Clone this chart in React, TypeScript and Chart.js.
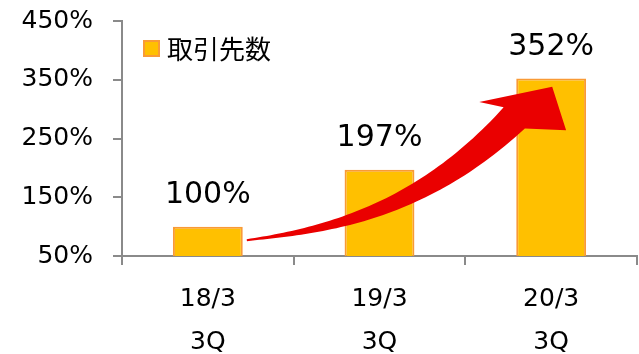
import React, { useEffect, useRef } from "react";
import { Chart, registerables } from "chart.js";

Chart.register(...registerables);

const categories: string[][] = [["18/3", "3Q"], ["19/3", "3Q"], ["20/3", "3Q"]];
const values: number[] = [100, 197, 352];
const seriesName = "取引先数";
const yMin = 50;
const yMax = 450;
const yStep = 100;

// Decorative arrow anchors in data space: [category position, value]
const arrowCurve: [number, number][] = [
  [0.227, 77],
  [0.692, 94],
  [1.24, 125],
  [1.785, 285],
];
const arrowHead: [number, number][] = [
  [1.581, 312],
  [2.006, 338],
  [2.087, 264],
];

const FONT = "'DejaVu Sans', Verdana, 'Noto Sans CJK JP', sans-serif";
const BAR_FILL = "#FFC000";
const BAR_BORDER = "#F99A36";
const AXIS_GREY = "#8a8a8a";
const ARROW_RED = "rgb(234,0,0)";

const overlayPlugin = {
  id: "overlay",
  afterDatasetsDraw(chart: any) {
    const { ctx, chartArea, scales } = chart;
    const xs = scales.x;
    const ys = scales.y;
    const P = (p: [number, number]) => ({ x: xs.getPixelForValue(p[0]), y: ys.getPixelForValue(p[1]) });

    // arrow
    const [p0, c1, c2, p3] = arrowCurve.map(P);
    const bez = (t: number) => {
      const u = 1 - t;
      return {
        x: u * u * u * p0.x + 3 * u * u * t * c1.x + 3 * u * t * t * c2.x + t * t * t * p3.x,
        y: u * u * u * p0.y + 3 * u * u * t * c1.y + 3 * u * t * t * c2.y + t * t * t * p3.y,
      };
    };
    const tan = (t: number) => {
      const u = 1 - t;
      const dx = 3 * u * u * (c1.x - p0.x) + 6 * u * t * (c2.x - c1.x) + 3 * t * t * (p3.x - c2.x);
      const dy = 3 * u * u * (c1.y - p0.y) + 6 * u * t * (c2.y - c1.y) + 3 * t * t * (p3.y - c2.y);
      const l = Math.hypot(dx, dy) || 1;
      return { x: dx / l, y: dy / l };
    };
    const N = 60;
    const upper: { x: number; y: number }[] = [];
    const lower: { x: number; y: number }[] = [];
    for (let i = 0; i <= N; i++) {
      const t = i / N;
      const b = bez(t);
      const d = tan(t);
      const n = { x: -d.y, y: d.x };
      const w = 1 + 14 * Math.pow(t, 1.3);
      upper.push({ x: b.x - n.x * w, y: b.y - n.y * w });
      lower.push({ x: b.x + n.x * w, y: b.y + n.y * w });
    }
    const head = arrowHead.map(P);
    ctx.save();
    ctx.fillStyle = ARROW_RED;
    ctx.beginPath();
    ctx.moveTo(upper[0].x, upper[0].y);
    upper.forEach((p) => ctx.lineTo(p.x, p.y));
    head.forEach((p) => ctx.lineTo(p.x, p.y));
    for (let i = lower.length - 1; i >= 0; i--) ctx.lineTo(lower[i].x, lower[i].y);
    ctx.closePath();
    ctx.fill();
    ctx.restore();

    // data labels
    const meta = chart.getDatasetMeta(0);
    ctx.save();
    ctx.font = `30px ${FONT}`;
    ctx.fillStyle = "#000";
    ctx.textAlign = "center";
    ctx.textBaseline = "alphabetic";
    meta.data.forEach((bar: any, i: number) => {
      ctx.fillText(`${values[i]}%`, bar.x, bar.y - 24);
    });
    ctx.restore();

    // legend
    ctx.save();
    const lx = chartArea.left + 21;
    const ly = chartArea.top + 19;
    ctx.fillStyle = BAR_FILL;
    ctx.strokeStyle = BAR_BORDER;
    ctx.lineWidth = 2;
    ctx.fillRect(lx, ly, 17, 17);
    ctx.strokeRect(lx + 1, ly + 1, 15, 15);
    ctx.fillStyle = "#000";
    ctx.font = `26px 'Noto Sans CJK JP', ${FONT}`;
    ctx.textAlign = "left";
    ctx.textBaseline = "middle";
    ctx.fillText(seriesName, lx + 24, ly + 9);
    ctx.restore();
  },
};

export default function App() {
  const ref = useRef<HTMLCanvasElement | null>(null);
  useEffect(() => {
    if (!ref.current) return;
    const chart = new Chart(ref.current, {
      type: "bar",
      data: {
        labels: categories,
        datasets: [
          {
            label: seriesName,
            data: values,
            backgroundColor: BAR_FILL,
            borderColor: BAR_BORDER,
            borderWidth: 2,
            categoryPercentage: 1,
            barPercentage: 0.407,
          },
        ],
      },
      options: {
        animation: false,
        responsive: true,
        maintainAspectRatio: false,
        layout: { autoPadding: false, padding: { top: 21, right: 2, left: 0, bottom: 0 } },
        plugins: { legend: { display: false }, tooltip: { enabled: false } },
        scales: {
          x: {
            offset: true,
            grid: { offset: true, drawOnChartArea: false, tickLength: 9, color: AXIS_GREY, lineWidth: 2 },
            border: { color: AXIS_GREY, width: 2 },
            ticks: { color: "#000", padding: 12.5, font: { family: FONT, size: 25, lineHeight: 1.72 }, maxRotation: 0 },
            afterFit: (s: any) => {
              s.height = 98;
            },
          },
          y: {
            min: yMin,
            max: yMax,
            grid: { drawOnChartArea: false, tickLength: 9, color: AXIS_GREY, lineWidth: 2 },
            border: { color: AXIS_GREY, width: 2 },
            ticks: {
              stepSize: yStep,
              color: "#000",
              padding: 20,
              font: { family: FONT, size: 25 },
              callback: (v: any) => `${v}%`,
            },
            afterFit: (s: any) => {
              s.width = 122;
              s.paddingTop = 0;
              s.paddingBottom = 0;
            },
          },
        },
      },
      plugins: [overlayPlugin],
    });
    return () => chart.destroy();
  }, []);
  return (
    <div style={{ position: "absolute", left: 0, top: 0, width: 639, height: 354, background: "#fff" }}>
      <canvas ref={ref} />
    </div>
  );
}
